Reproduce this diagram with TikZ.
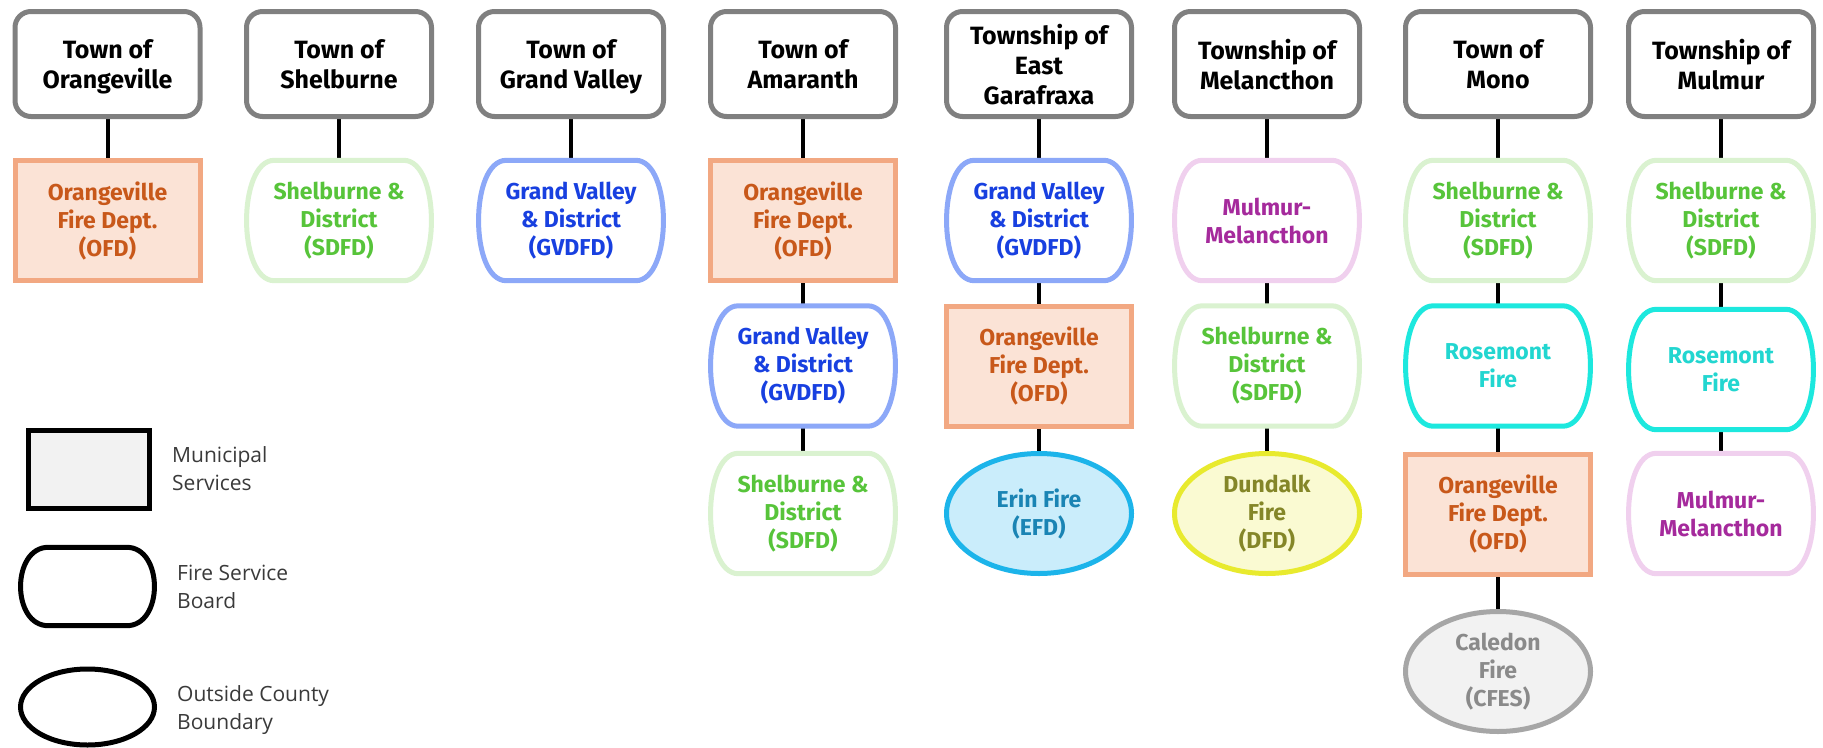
\documentclass[tikz,border=0pt]{standalone}
\usepackage{fontspec}
\setmainfont{Fira Sans}
\newfontfamily\legendfont{Open Sans}
\usetikzlibrary{shapes.geometric,calc}
\pgfdeclarelayer{background}
\pgfsetlayers{background,main}

\definecolor{topgray}{HTML}{808080}
\definecolor{ofdfill}{HTML}{FBE3D6}
\definecolor{ofdline}{HTML}{F2A882}
\definecolor{ofdtext}{HTML}{C8581A}
\definecolor{sdfdline}{HTML}{DAF2D0}
\definecolor{sdfdtext}{HTML}{57C43A}
\definecolor{gvline}{HTML}{8CA8F8}
\definecolor{gvtext}{HTML}{1840E0}
\definecolor{mmline}{HTML}{F0D0EE}
\definecolor{mmtext}{HTML}{A52A9C}
\definecolor{roseline}{HTML}{1DE8DE}
\definecolor{rosetext}{HTML}{22D6D0}
\definecolor{erinfill}{HTML}{CAEDFB}
\definecolor{erinline}{HTML}{1CB4EA}
\definecolor{erintext}{HTML}{1A84B4}
\definecolor{dunfill}{HTML}{FAFAD2}
\definecolor{dunline}{HTML}{E8EA2E}
\definecolor{duntext}{HTML}{848628}
\definecolor{calfill}{HTML}{F2F2F2}
\definecolor{calline}{HTML}{A6A6A6}
\definecolor{caltext}{HTML}{8A8A8A}
\definecolor{legtext}{HTML}{3A3A3A}

\newcommand\drawboard[2]{%
  \draw[line width=5pt,draw=#2]
    ($(#1.north east)+(-28,0)$) .. controls ($(#1.north east)+(9,0)$) and ($(#1.south east)+(9,0)$) .. ($(#1.south east)+(-28,0)$)
    -- ($(#1.south west)+(28,0)$) .. controls ($(#1.south west)+(-9,0)$) and ($(#1.north west)+(-9,0)$) .. ($(#1.north west)+(28,0)$)
    -- cycle;}

\tikzset{
  muni/.style={draw=topgray, line width=5pt, rounded corners=16pt, fill=white,
    minimum width=185pt, minimum height=105pt, align=center, inner sep=0pt,
    text depth=0pt, font=\bfseries\fontsize{25}{30}\selectfont},
  svc/.style={minimum width=185pt, minimum height=120pt, align=center, inner sep=0pt,
    font=\bfseries\fontsize{23}{28}\selectfont},
  ofd/.style={svc, draw=ofdline, fill=ofdfill, line width=5pt, text=ofdtext},
  board/.style={svc, text=#1},
  outside/.style={svc, ellipse, line width=5pt},
  conn/.style={line width=4pt, black},
  legtxt/.style={anchor=west, align=left, inner sep=0pt, text=legtext,
    font=\legendfont\fontsize{21}{28}\selectfont}
}

\begin{document}
\begin{tikzpicture}[x=1pt,y=-1pt]
\useasboundingbox (0,0) rectangle (1823,747);

% municipalities
\node[muni] (t1) at (107.5,64) {Town of\\Orangeville};
\node[muni] (t2) at (339,64) {Town of\\Shelburne};
\node[muni] (t3) at (571,64) {Town of\\Grand Valley};
\node[muni] (t4) at (803,64) {Town of\\Amaranth};
\node[muni] (t5) at (1039,64) {Township of\\East\\Garafraxa};
\node[muni] (t6) at (1267,64) {Township of\\Melancthon};
\node[muni] (t7) at (1498,64) {Town of\\Mono};
\node[muni] (t8) at (1721,64) {Township of\\Mulmur};

% column 1
\node[ofd] (c1a) at (107.5,220.5) {Orangeville\\Fire Dept.\\(OFD)};
% column 2
\node[board=sdfdtext] (c2a) at (339,220.5) {Shelburne \&\\District\\(SDFD)};
% column 3
\node[board=gvtext] (c3a) at (571,220.5) {Grand Valley\\\& District\\(GVDFD)};
% column 4
\node[ofd] (c4a) at (803,220.5) {Orangeville\\Fire Dept.\\(OFD)};
\node[board=gvtext] (c4b) at (803,366) {Grand Valley\\\& District\\(GVDFD)};
\node[board=sdfdtext] (c4c) at (803,513.5) {Shelburne \&\\District\\(SDFD)};
% column 5
\node[board=gvtext] (c5a) at (1039,220.5) {Grand Valley\\\& District\\(GVDFD)};
\node[ofd] (c5b) at (1039,366) {Orangeville\\Fire Dept.\\(OFD)};
\node[outside, draw=erinline, fill=erinfill, text=erintext] (c5c) at (1039,513.5) {Erin Fire\\(EFD)};
% column 6
\node[board=mmtext] (c6a) at (1267,220.5) {Mulmur-\\Melancthon};
\node[board=sdfdtext] (c6b) at (1267,366) {Shelburne \&\\District\\(SDFD)};
\node[outside, draw=dunline, fill=dunfill, text=duntext] (c6c) at (1267,513.5) {Dundalk\\Fire\\(DFD)};
% column 7
\node[board=sdfdtext] (c7a) at (1498,220.5) {Shelburne \&\\District\\(SDFD)};
\node[board=rosetext] (c7b) at (1498,366) {Rosemont\\Fire};
\node[ofd] (c7c) at (1498,514) {Orangeville\\Fire Dept.\\(OFD)};
\node[outside, draw=calline, fill=calfill, text=caltext] (c7d) at (1498,671.5) {Caledon\\Fire\\(CFES)};
% column 8
\node[board=sdfdtext] (c8a) at (1721,220.5) {Shelburne \&\\District\\(SDFD)};
\node[board=rosetext] (c8b) at (1721,369.5) {Rosemont\\Fire};
\node[board=mmtext] (c8c) at (1721,513.5) {Mulmur-\\Melancthon};

% board outlines
\foreach \n/\c in {c2a/sdfdline, c3a/gvline, c4b/gvline, c4c/sdfdline, c5a/gvline,
  c6a/mmline, c6b/sdfdline, c7a/sdfdline, c7b/roseline, c8a/sdfdline, c8b/roseline, c8c/mmline}
  {\drawboard{\n}{\c}}

% connectors
\begin{pgfonlayer}{background}
\fill[white] (0,0) rectangle (1823,747);
\draw[conn] (t1.south) -- (c1a.north);
\draw[conn] (t2.south) -- (c2a.north);
\draw[conn] (t3.south) -- (c3a.north);
\draw[conn] (t4.south) -- (c4a.north);
\draw[conn] (c4a.south) -- (c4b.north);
\draw[conn] (c4b.south) -- (c4c.north);
\draw[conn] (t5.south) -- (c5a.north);
\draw[conn] (c5a.south) -- (c5b.north);
\draw[conn] (c5b.south) -- (c5c.north);
\draw[conn] (t6.south) -- (c6a.north);
\draw[conn] (c6a.south) -- (c6b.north);
\draw[conn] (c6b.south) -- (c6c.north);
\draw[conn] (t7.south) -- (c7a.north);
\draw[conn] (c7a.south) -- (c7b.north);
\draw[conn] (c7b.south) -- (c7c.north);
\draw[conn] (c7c.south) -- (c7d.north);
\draw[conn] (t8.south) -- (c8a.north);
\draw[conn] (c8a.south) -- (c8b.north);
\draw[conn] (c8b.south) -- (c8c.north);
\end{pgfonlayer}

% legend
\node[draw=black, fill=calfill, line width=5pt, minimum width=121pt, minimum height=78pt, inner sep=0pt] (lg1) at (89,469.5) {};
\node[minimum width=134pt, minimum height=78pt, inner sep=0pt] (lg2) at (87.5,586.5) {};
\drawboard{lg2}{black}
\node[ellipse, draw=black, line width=5pt, minimum width=134pt, minimum height=76pt, inner sep=0pt] (lg3) at (87.5,707) {};
\node[legtxt] (lt1) at (172,469) {Municipal\\Services};
\node[legtxt] (lt2) at (177,587) {Fire Service\\Board};
\node[legtxt] (lt3) at (177,710) {Outside County\\Boundary};
\end{tikzpicture}
\end{document}
